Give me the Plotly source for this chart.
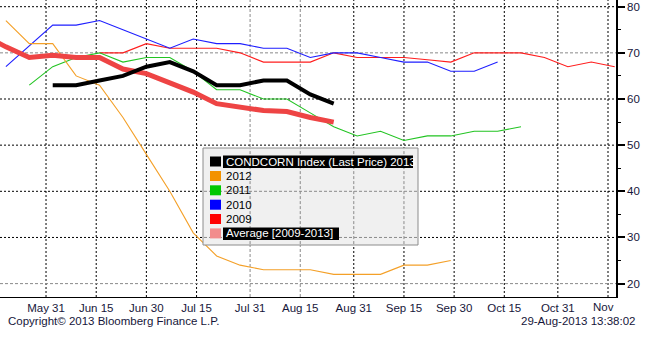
import plotly.graph_objects as go

# Week-ending dates laid on the 2013 calendar
weeks = ["2013-05-12", "2013-05-19", "2013-05-26", "2013-06-02", "2013-06-09",
         "2013-06-16", "2013-06-23", "2013-06-30", "2013-07-07", "2013-07-14",
         "2013-07-21", "2013-07-28", "2013-08-04", "2013-08-11", "2013-08-18",
         "2013-08-25", "2013-09-01", "2013-09-08", "2013-09-15", "2013-09-22",
         "2013-09-29", "2013-10-06", "2013-10-13", "2013-10-20", "2013-10-27",
         "2013-11-03", "2013-11-10", "2013-11-17"]

# Corn condition, % good/excellent
cond_2013 = [63, 63, 64, 65, 67, 68, 66, 63, 63, 64, 64, 61, 59]                 # weeks[3:16]
cond_2012 = [77, 72, 72, 65, 63, 56, 48, 40, 31, 26, 24, 23, 23, 23, 22, 22, 22,
             24, 24, 25]                                                          # weeks[1:21]
cond_2011 = [63, 67, 69, 70, 68, 69, 69, 66, 62, 62, 60, 60, 57, 54, 52, 53, 51,
             52, 52, 53, 53, 54]                                                  # weeks[2:24]
cond_2010 = [67, 71.5, 76, 76, 77, 75, 73, 71, 73, 72, 72, 71, 71, 69, 70, 70, 69,
             68, 68, 66, 66, 68]                                                  # weeks[1:23]
cond_2009 = [70, 70, 72, 71, 71, 71, 70, 68, 68, 68, 70, 69, 69, 69, 68.5, 68, 70,
             70, 70, 69, 67, 68, 67]                                              # weeks[5:28]
cond_avg = [74, 71.3, 69, 69.5, 69, 69, 66.5, 65.5, 63.5, 61.5, 59, 58.2, 57.5,
            57.3, 56, 55]                                                         # weeks[0:16]

legend_names = ["CONDCORN Index (Last Price) 2013", "2012", "2011", "2010", "2009",
                "Average [2009-2013]"]

tick_dates = ["2013-05-31", "2013-06-15", "2013-06-30", "2013-07-15", "2013-07-31",
              "2013-08-15", "2013-08-31", "2013-09-15", "2013-09-30", "2013-10-15",
              "2013-10-31", "2013-11-15"]
tick_text = ["May 31", "Jun 15", "Jun 30", "Jul 15", "Jul 31", "Aug 15", "Aug 31",
             "Sep 15", "Sep 30", "Oct 15", "Oct 31", ""]
y_ticks = [20, 30, 40, 50, 60, 70, 80]

W, H = 645, 338
ML, MR, MT, MB = 0, 29, 0, 41
PW, PH = W - ML - MR, H - MT - MB
FONT = "Liberation Sans"
TXT = "#16163a"


def fx(px):
    return px / PW


def fy(py):
    return 1 - py / PH


series = [
    # name, x, y, line colour, width, swatch colour, highlighted
    (legend_names[4], weeks[5:28], cond_2009, "#FF1E1E", 1.1, "#FF0000", False),
    (legend_names[3], weeks[1:23], cond_2010, "#1E1EFF", 1.1, "#0000FF", False),
    (legend_names[2], weeks[2:24], cond_2011, "#22C422", 1.1, "#00C800", False),
    (legend_names[1], weeks[1:21], cond_2012, "#F4A028", 1.1, "#F39200", False),
    (legend_names[5], weeks[0:16], cond_avg, "#EE4444", 5, "#F28C8C", True),
    (legend_names[0], weeks[3:16], cond_2013, "#000000", 4, "#000000", True),
]

fig = go.Figure()
for name, xs, ys, col, wid, _, _ in series:
    fig.add_trace(go.Scatter(x=xs, y=ys, mode="lines", name=name,
                             line=dict(color=col, width=wid),
                             showlegend=False, hoverinfo="skip"))

shapes = []
gray_dates = {"2013-07-31", "2013-08-15"}
gray_vals = {20, 70}

# grid
for d in tick_dates:
    gray = d in gray_dates
    shapes.append(dict(type="line", xref="x", yref="paper", x0=d, x1=d, y0=0, y1=1,
                       layer="below",
                       line=dict(color="#8a8a8a" if gray else "#000000", width=1,
                                 dash="3px,2px" if gray else "2px,2px")))
for v in y_ticks:
    gray = v in gray_vals
    shapes.append(dict(type="line", xref="paper", yref="y", x0=0, x1=1, y0=v, y1=v,
                       layer="below",
                       line=dict(color="#8a8a8a" if gray else "#000000", width=1,
                                 dash="3px,2px" if gray else "2px,2px")))

# legend panel
box = (203, 148, 418, 245)
shapes.append(dict(type="rect", xref="paper", yref="paper",
                   x0=fx(box[0]), x1=fx(box[2]), y0=fy(box[3]), y1=fy(box[1]),
                   layer="above", fillcolor="#F0F0F0",
                   line=dict(color="#8c8c8c", width=1)))
# grid seen through the panel
for d in ["2013-07-31", "2013-08-15", "2013-08-31", "2013-09-15"]:
    shapes.append(dict(type="line", xref="x", yref="paper", x0=d, x1=d,
                       y0=fy(box[3]) + 0.003, y1=fy(box[1]) - 0.003, layer="above",
                       line=dict(color="#8a8a8a", width=1, dash="3px,2px")))
for v in [30, 40]:
    shapes.append(dict(type="line", xref="paper", yref="y", x0=fx(box[0] + 1),
                       x1=fx(box[2] - 1), y0=v, y1=v, layer="above",
                       line=dict(color="#8a8a8a", width=1, dash="3px,2px")))

annotations = []
row_y = [161.5, 176, 190.3, 204.7, 219, 233.4]
order = [5, 3, 2, 1, 0, 4]   # legend order: 2013, 2012, 2011, 2010, 2009, average
hl_width = {0: 190, 5: 116}
for i, si in enumerate(order):
    name, _, _, _, _, sw, hl = series[si]
    cy = row_y[i]
    shapes.append(dict(type="rect", xref="paper", yref="paper",
                       x0=fx(210), x1=fx(221), y0=fy(cy + 5), y1=fy(cy - 5),
                       layer="above", fillcolor=sw, line=dict(width=0)))
    if hl:
        shapes.append(dict(type="rect", xref="paper", yref="paper",
                           x0=fx(223), x1=fx(223 + hl_width[i]), y0=fy(cy + 6.5),
                           y1=fy(cy - 6), layer="above", fillcolor="#000000",
                           line=dict(width=0)))
    annotations.append(dict(xref="paper", yref="paper", x=fx(224), y=fy(cy),
                            xanchor="left", yanchor="middle", showarrow=False,
                            text=name,
                            font=dict(family=FONT, size=11.5,
                                      color="#FFFFFF" if hl else "#000000")))

annotations += [
    dict(xref="paper", yref="paper", x=fx(591), y=fy(306.5), xanchor="left",
         yanchor="middle", showarrow=False, text="Nov",
         font=dict(family=FONT, size=11.5, color=TXT)),
    dict(xref="paper", yref="paper", x=fx(6), y=fy(321), xanchor="left",
         yanchor="middle", showarrow=False, text="Copyright© 2013 Bloomberg Finance L.P.",
         font=dict(family=FONT, size=11.5, color=TXT)),
    dict(xref="paper", yref="paper", x=fx(637), y=fy(321), xanchor="right",
         yanchor="middle", showarrow=False, text="29-Aug-2013 13:38:02",
         font=dict(family=FONT, size=11.5, color=TXT)),
]

fig.update_layout(
    width=W, height=H,
    margin=dict(l=ML, r=MR, t=MT, b=MB, pad=0),
    paper_bgcolor="#FFFFFF", plot_bgcolor="#FFFFFF",
    shapes=shapes, annotations=annotations,
    font=dict(family=FONT, size=11.5, color=TXT),
    xaxis=dict(type="date", range=["2013-05-17 05:45", "2013-11-17 09:20"],
               tickmode="array", tickvals=tick_dates, ticktext=tick_text,
               showgrid=False, zeroline=False, showline=True, linecolor="#000000",
               linewidth=1, ticks="", tickfont=dict(family=FONT, size=11.5, color=TXT)),
    yaxis=dict(range=[17.1, 81.45], side="right", tickmode="array", tickvals=y_ticks,
               showgrid=False, zeroline=False, showline=True, linecolor="#000000",
               linewidth=1.5, ticks="outside", ticklen=7, tickwidth=2,
               tickcolor="#000000",
               minor=dict(dtick=5, ticks="outside", ticklen=3, tickwidth=1,
                          tickcolor="#000000"),
               tickfont=dict(family=FONT, size=11.5, color=TXT)),
)

fig.write_html("out.html")
